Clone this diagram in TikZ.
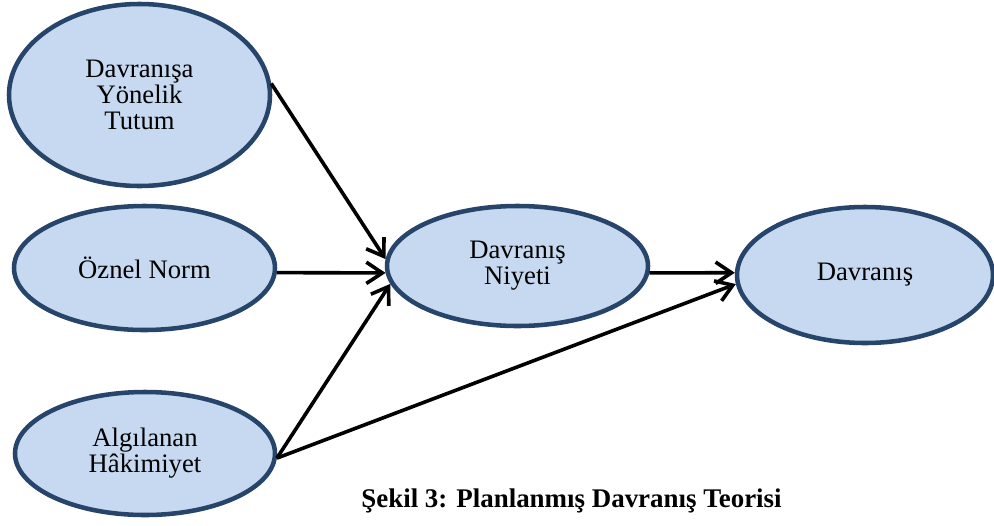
\documentclass[tikz,border=0pt]{standalone}
\usepackage{fontspec}
\setmainfont{Liberation Serif}
\usepackage{xcolor}
\usepackage{tikz}
\usetikzlibrary{shapes.geometric, arrows.meta}
\definecolor{elipsdolgu}{HTML}{C6D9F0}
\definecolor{elipskenar}{HTML}{27446A}

\begin{document}
\begin{tikzpicture}[x=0.75pt, y=-0.75pt,
  faktor/.style={ellipse, draw=elipskenar, fill=elipsdolgu, line width=3.4pt,
    inner sep=0pt, align=center, font=\fontsize{20}{19.5}\selectfont},
  ok/.style={-{Straight Barb[length=12pt, width=16pt]}, line width=2.7pt}]
\useasboundingbox (0,0) rectangle (994,525);
% faktorler
\node[faktor, minimum width=195.75pt, minimum height=136.5pt] (tutum) at (139.5,95) {Davranışa\\Yönelik\\Tutum};
\node[faktor, minimum width=195.75pt, minimum height=93pt] (norm) at (144.5,268) {Öznel Norm};
\node[faktor, minimum width=195pt, minimum height=92.25pt] (hakim) at (145,453.5) {Algılanan\\Hâkimiyet};
\node[faktor, minimum width=195.75pt, minimum height=90pt] (niyet) at (517.5,266) {Davranış\\Niyeti};
\node[faktor, minimum width=192pt, minimum height=102pt] (davranis) at (865,275) {Davranış};
% oklar
\draw[ok] (tutum.5) -- (niyet.177);
\draw[ok] (norm.-2) -- (niyet.183);
\draw[ok] (hakim.-2) -- (niyet.188);
\draw[ok] (niyet.-3) -- (davranis.179);
\draw[ok] (hakim.-2) -- (davranis.184);
\node[anchor=base, font=\fontsize{20.2}{18}\selectfont\bfseries] (baslik) at (571.5,507) {Şekil 3: Planlanmış Davranış Teorisi};
\end{tikzpicture}
\end{document}
